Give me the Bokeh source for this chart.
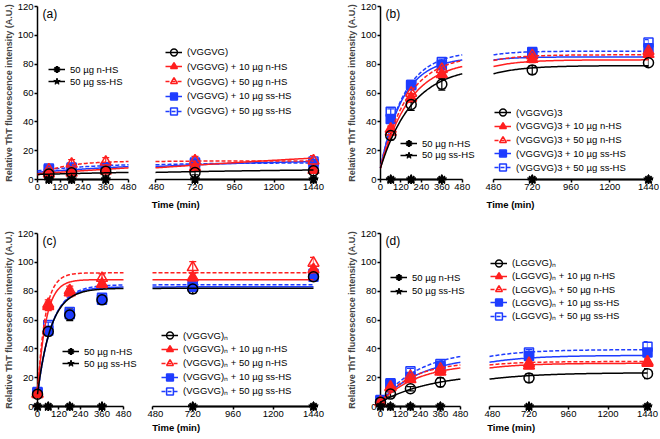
import numpy as np
from bokeh.plotting import figure
from bokeh.models import (Range1d, FixedTicker, Legend, LegendItem, Label, Title,
                          Whisker, TeeHead, ColumnDataSource)
from bokeh.layouts import row, column
from bokeh.embed import file_html
from bokeh.resources import INLINE

# ---------------- data ----------------
x_ticks_left = [0, 120, 240, 360, 480]
x_ticks_right = [480, 720, 960, 1200, 1440]
y_ticks = [0, 20, 40, 60, 80, 100, 120]

panel_letters = ["(a)", "(b)", "(c)", "(d)"]
peptides = ["(VGGVG)", "(VGGVG)3", "(VGGVG)\u2099", "(LGGVG)\u2099"]
suffixes = ["", " + 10 \u00b5g n-HS", " + 50 \u00b5g n-HS", " + 10 \u00b5g ss-HS", " + 50 \u00b5g ss-HS"]
control_labels = ["50 \u00b5g n-HS", "50 \u00b5g ss-HS"]
y_title = "Relative ThT fluorescence intensity (A.U.)"
x_title = "Time (min)"

time_a = [60, 180, 360, 720, 1440]
time_b = [60, 180, 360, 720, 1440]
time_c = [0, 60, 180, 360, 720, 1440]
time_d = [0, 60, 180, 360, 720, 1440]

# series order: peptide, +10 n-HS, +50 n-HS, +10 ss-HS, +50 ss-HS
mean_a = [[3.8, 4.7, 5.8, 4.8, 6.0],
          [4.0, 4.6, 6.0, 8.5, 6.5],
          [6.8, 10.8, 12.2, 13.0, 13.0],
          [7.0, 7.6, 8.0, 11.0, 11.0],
          [7.6, 8.4, 8.5, 11.8, 12.5]]
err_a = [[1, 1, 1.5, 1.5, 1.5],
         [1, 1, 1, 1.5, 1.5],
         [2, 3, 3, 3, 3.5],
         [1.5, 1.5, 1.5, 2, 2],
         [1.5, 1.5, 1.5, 2, 2]]
fit_y0_a = [3.5, 4.0, 3.0, 5.0, 6.0]
fit_top_a = [8.0, 40.0, 12.8, 14.0, 11.5]
fit_k_a = [0.0008, 0.00025, 0.007, 0.0012, 0.003]

mean_b = [[30.5, 52.0, 66.0, 76.0, 81.0],
          [35.0, 56.5, 73.0, 83.5, 87.0],
          [33.0, 60.0, 76.5, 86.0, 89.0],
          [42.0, 65.5, 79.5, 87.5, 91.0],
          [47.0, 65.5, 81.5, 88.5, 95.0]]
err_b = [[3, 4, 4, 3, 2.5],
         [2, 3, 3, 2.5, 2.5],
         [2, 3, 3, 2, 3],
         [2, 2, 2, 2, 2],
         [2, 2, 2, 2, 2]]
fit_y0_b = [8.0, 8.0, 8.0, 8.0, 8.0]
fit_top_b = [79.0, 83.0, 86.5, 85.0, 89.0]
fit_k_b = [0.00527, 0.0058, 0.0062, 0.0075, 0.0072]

mean_c = [[8.5, 52.0, 63.5, 74.0, 81.5, 90.0],
          [8.5, 69.5, 79.0, 85.0, 89.5, 95.0],
          [9.0, 71.0, 80.5, 89.0, 96.5, 99.5],
          [9.5, 52.5, 64.0, 74.0, 83.0, 90.0],
          [10.0, 56.5, 65.5, 75.5, 84.5, 92.0]]
err_c = [[1, 3, 4, 3, 3, 2],
         [1, 3, 3, 3, 3, 3],
         [1, 3, 3, 3, 4, 4],
         [1, 2, 3, 2, 2, 2],
         [1, 2, 2, 2, 2, 2]]
fit_y0_c = [8.5, 8.5, 8.5, 8.5, 8.5]
fit_top_c = [82.0, 88.0, 92.7, 83.0, 84.5]
fit_k_c = [0.01325, 0.0214, 0.0234, 0.013, 0.0125]

mean_d = [[3.0, 8.6, 12.3, 16.8, 19.8, 22.8],
          [3.0, 13.2, 18.8, 24.0, 28.3, 30.2],
          [3.0, 13.5, 21.0, 26.0, 30.0, 31.0],
          [4.0, 16.2, 20.5, 28.0, 35.0, 37.5],
          [4.5, 15.5, 24.5, 29.5, 37.5, 41.5]]
err_d = [[1, 1.5, 1.5, 3, 3, 3.5],
         [1, 1.5, 2, 2, 2, 2],
         [1, 1.5, 2, 2, 2, 2.5],
         [1, 1.5, 2, 2, 2, 2.5],
         [1, 1.5, 2, 2, 2, 3.5]]
fit_y0_d = [3.0, 3.0, 3.0, 3.5, 3.5]
fit_top_d = [23.5, 30.0, 31.2, 35.5, 39.5]
fit_k_d = [0.00316, 0.0044, 0.00514, 0.00394, 0.00419]

control_n_a = [0, 0, 0, 0, 0]
control_ss_a = [0, 0, 0, 0, 0]
control_n_b = [0, 0, 0, 0, 0]
control_ss_b = [0, 0, 0, 0, 0]
control_n_c = [0, 0, 0, 0, 0, 0]
control_ss_c = [0, 0, 0, 0, 0, 0]
control_n_d = [0, 0, 0, 0, 0, 0]
control_ss_d = [0, 0, 0, 0, 0, 0]

# ---------------- styles ----------------
BLACK = "#000000"
RED = "#FF1F1F"
BLUE = "#1E3CFF"
FONT = "Liberation Sans"

styles = [
    dict(color=BLACK, marker="circle", filled=False, dash="solid", size=10),
    dict(color=RED, marker="triangle", filled=True, dash="solid", size=11),
    dict(color=RED, marker="triangle", filled=False, dash="4 2", size=11),
    dict(color=BLUE, marker="square", filled=True, dash="solid", size=9),
    dict(color=BLUE, marker="square", filled=False, dash="4 2", size=9),
]

# geometry per panel (layout only; page origin at top-left of window)
geoms = [
    dict(H=214, top=6, bottom=34, fh=174, fb=180, wl=148, bl=37, xl_end=585.5,
         wr=195, lr=7, rr=30, title_off=-3.7, title_stand=9, letter_dy=8.5,
         leg_main=(10, 52.7, 14.75), leg_ctrl=(11, 70.3, 11.7)),
    dict(H=214, top=6, bottom=34, fh=174, fb=180, wl=142, bl=29, xl_end=616.4,
         wr=174, lr=8, rr=11, title_off=-7.0, title_stand=9, letter_dy=8.5,
         leg_main=(1, 113.0, 13.75), leg_ctrl=(20, 144.0, 11.7)),
    dict(H=224, top=19, bottom=32, fh=173, fb=406, wl=147, bl=37, xl_end=614.0,
         wr=196, lr=5, rr=30, title_off=-0.3, title_stand=0, letter_dy=7.0,
         leg_main=(9, 335.0, 13.9), leg_ctrl=(25, 351.0, 12.3)),
    dict(H=224, top=19, bottom=32, fh=173, fb=406, wl=141, bl=29, xl_end=625.0,
         wr=175, lr=5, rr=12, title_off=-2.3, title_stand=0, letter_dy=7.0,
         leg_main=(1, 262.7, 13.25), leg_ctrl=(10, 277.3, 13.4)),
]


def style_axis(ax):
    ax.axis_line_color = BLACK
    ax.axis_line_width = 1.5
    ax.major_tick_line_color = BLACK
    ax.major_tick_line_width = 1.5
    ax.major_tick_in = 0
    ax.major_tick_out = 3
    ax.minor_tick_line_color = None
    ax.major_label_text_font = FONT
    ax.major_label_text_font_size = "9.5px"
    ax.major_label_text_color = BLACK
    ax.major_label_standoff = 1


def fit_curve(x, y0, top, k):
    x = np.asarray(x, dtype=float)
    return y0 + (top - y0) * (1.0 - np.exp(-k * x))


def add_legend_rows(f, items, spec, fb):
    x_rel, first, pitch = spec
    for j, it in enumerate(items):
        yb = fb - (first + j * pitch) - 10
        f.add_layout(Legend(items=[it], location=(x_rel, yb), padding=0, margin=0,
                            spacing=0, glyph_width=17, glyph_height=20,
                            label_height=20, label_standoff=5,
                            label_text_font=FONT, label_text_font_size="9.5px",
                            label_text_color=BLACK,
                            border_line_color=None, background_fill_alpha=0))


def build_panel(idx, times, means, errs, y0s, tops, ks, ctrl_n, ctrl_ss):
    g = geoms[idx]
    common = dict(height=g["H"], output_backend="svg", toolbar_location=None,
                  min_border_top=g["top"], min_border_bottom=g["bottom"])
    fl = figure(width=g["wl"], x_range=Range1d(0, g["xl_end"]), y_range=Range1d(0, 120),
                min_border_left=g["bl"], min_border_right=0, **common)
    fr = figure(width=g["wr"], x_range=Range1d(480, 1440), y_range=Range1d(0, 120),
                y_axis_location=None, min_border_left=g["lr"], min_border_right=g["rr"], **common)
    for f, ticks in ((fl, x_ticks_left), (fr, x_ticks_right)):
        f.xgrid.visible = False
        f.ygrid.visible = False
        f.outline_line_color = None
        f.xaxis.ticker = FixedTicker(ticks=ticks)
        f.xaxis.bounds = (ticks[0], ticks[-1])
        style_axis(f.xaxis[0])
    fl.yaxis.ticker = FixedTicker(ticks=y_ticks)
    style_axis(fl.yaxis[0])
    fl.yaxis.axis_label = y_title
    fl.yaxis.axis_label_text_font = FONT
    fl.yaxis.axis_label_text_font_size = "9px"
    fl.yaxis.axis_label_text_font_style = "bold"
    fl.yaxis.axis_label_standoff = 1

    t = np.asarray(times, dtype=float)
    left_mask = t <= 480
    right_mask = t > 480
    xl = np.linspace(0, 480, 121)
    xr = np.linspace(480, 1440, 121)

    main_items = [None] * 5
    for i in reversed(range(5)):
        st = styles[i]
        c = st["color"]
        m = np.asarray(means[i], dtype=float)
        e = np.asarray(errs[i], dtype=float)
        for f, xs, mask in ((fl, xl, left_mask), (fr, xr, right_mask)):
            ln = f.line(xs, fit_curve(xs, y0s[i], tops[i], ks[i]), line_color=c,
                        line_width=1.5, line_dash=st["dash"], level="overlay")
            src = ColumnDataSource(dict(x=t[mask], lo=(m - e)[mask], hi=(m + e)[mask]))
            f.add_layout(Whisker(source=src, base="x", lower="lo", upper="hi",
                                 line_color=c, line_width=1.2,
                                 upper_head=TeeHead(size=7, line_color=c, line_width=1.2),
                                 lower_head=TeeHead(size=7, line_color=c, line_width=1.2)))
            sc = f.scatter(t[mask], m[mask], marker=st["marker"], size=st["size"],
                           line_color=c, line_width=1.5,
                           fill_color=c if st["filled"] else None, level="overlay")
            if f is fr:
                main_items[i] = LegendItem(label=peptides[idx] + suffixes[i], renderers=[ln, sc])

    ctrl_items = []
    for vals, mk, sz, lw, lab in ((ctrl_n, "asterisk", 9, 2, control_labels[0]),
                                  (ctrl_ss, "star", 10, 1, control_labels[1])):
        v = np.asarray(vals, dtype=float)
        for f, mask in ((fl, left_mask), (fr, right_mask)):
            ln = f.line(t[mask], v[mask], line_color=BLACK, line_width=1.5, level="overlay")
            sc = f.scatter(t[mask], v[mask], marker=mk, size=sz, line_color=BLACK,
                           line_width=lw, fill_color=BLACK, level="overlay")
            if f is fl:
                ctrl_items.append(LegendItem(label=lab, renderers=[ln, sc]))

    add_legend_rows(fr, main_items, g["leg_main"], g["fb"])
    add_legend_rows(fl, ctrl_items, g["leg_ctrl"], g["fb"])

    fl.add_layout(Label(x=5, y=g["fh"] - g["letter_dy"], x_units="screen", y_units="screen",
                        text=panel_letters[idx], text_font=FONT, text_font_size="12px",
                        text_baseline="middle", text_align="left", text_color=BLACK))
    fr.add_layout(Title(text=x_title, align="left", offset=g["title_off"], standoff=g["title_stand"],
                        text_font=FONT, text_font_size="9.5px", text_font_style="bold",
                        text_color=BLACK), "below")
    return fl, fr


pa = build_panel(0, time_a, mean_a, err_a, fit_y0_a, fit_top_a, fit_k_a, control_n_a, control_ss_a)
pb = build_panel(1, time_b, mean_b, err_b, fit_y0_b, fit_top_b, fit_k_b, control_n_b, control_ss_b)
pc = build_panel(2, time_c, mean_c, err_c, fit_y0_c, fit_top_c, fit_k_c, control_n_c, control_ss_c)
pd = build_panel(3, time_d, mean_d, err_d, fit_y0_d, fit_top_d, fit_k_d, control_n_d, control_ss_d)

layout = column(row(pa[0], pa[1], pb[0], pb[1]), row(pc[0], pc[1], pd[0], pd[1]))

open("out.html", "w").write(file_html(layout, INLINE))
